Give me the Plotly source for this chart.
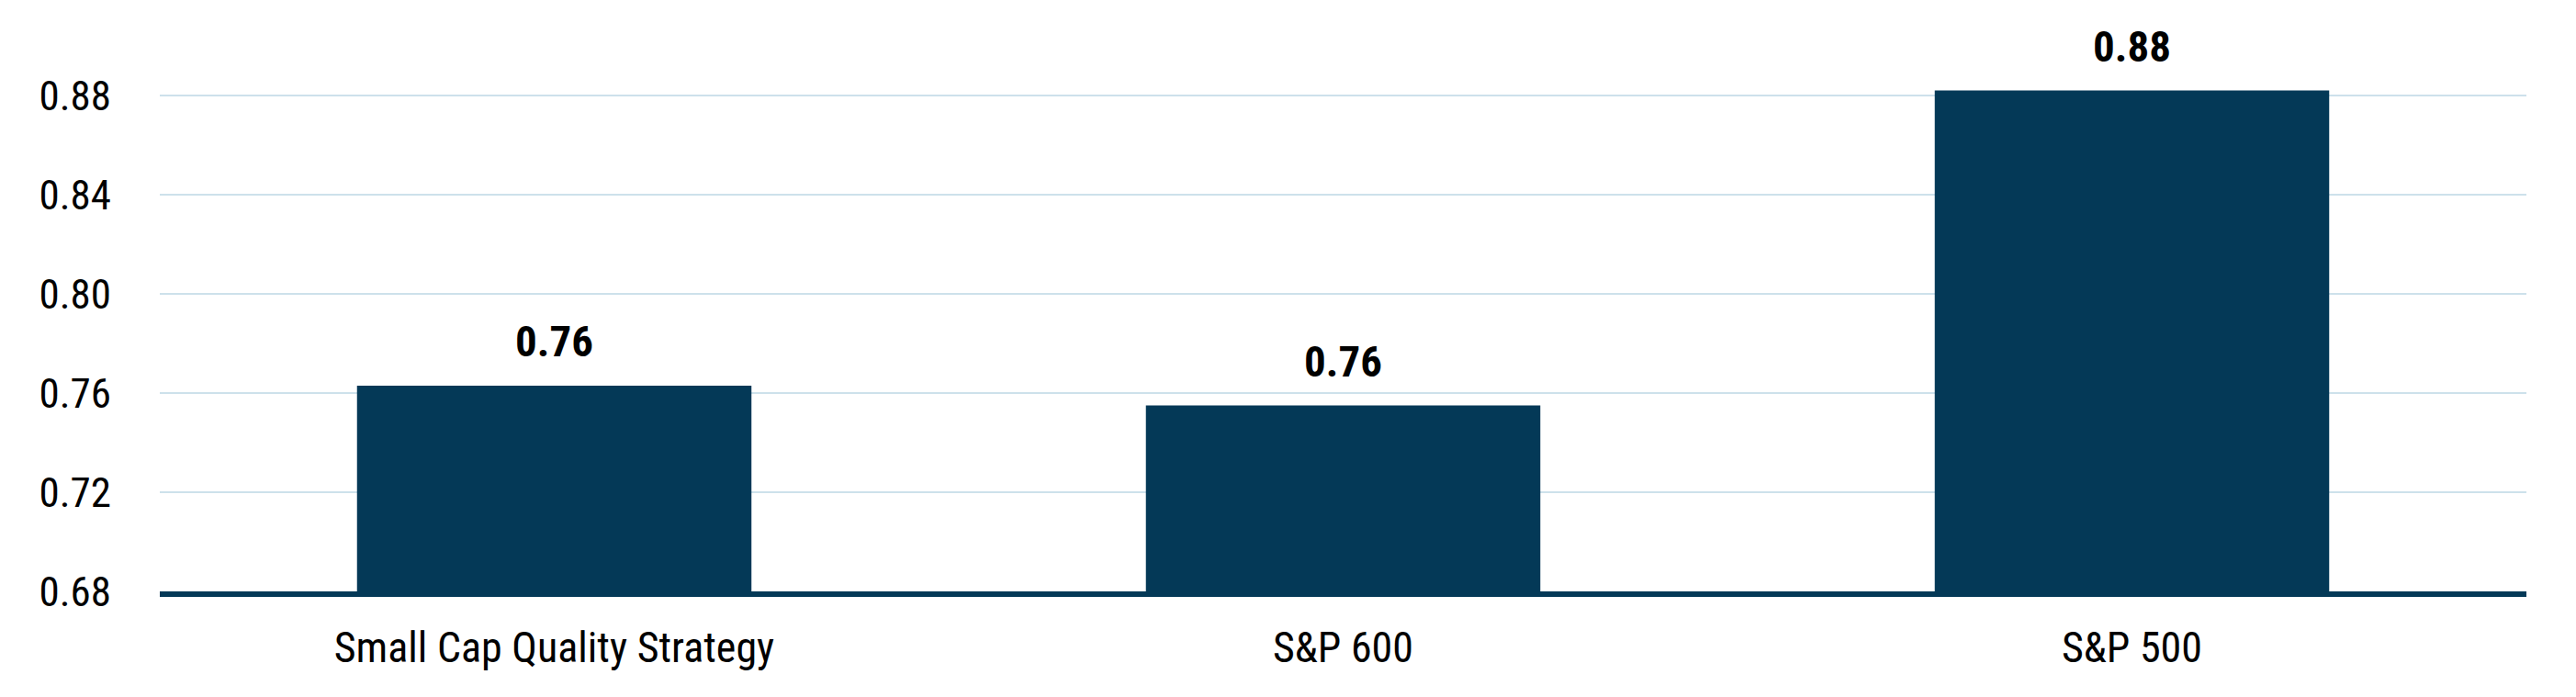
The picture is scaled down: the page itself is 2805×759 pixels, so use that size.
import plotly.graph_objects as go

# Chart data
categories = ["Small Cap Quality Strategy", "S&P 600", "S&P 500"]
values = [0.763, 0.755, 0.882]
value_labels = ["0.76", "0.76", "0.88"]
y_ticks = [0.68, 0.72, 0.76, 0.80, 0.84, 0.88]
y_tick_labels = ["0.68", "0.72", "0.76", "0.80", "0.84", "0.88"]

BAR_COLOR = "#043957"
GRID_COLOR = "#cde1eb"
FONT = "Roboto Condensed, Liberation Sans Narrow, DejaVu Sans Condensed, sans-serif"

fig = go.Figure(
    go.Bar(
        x=categories,
        y=values,
        marker=dict(color=BAR_COLOR, line=dict(width=0)),
        width=0.5,
        showlegend=False,
    )
)

# Value labels above each bar
for cat, val, lab in zip(categories, values, value_labels):
    fig.add_annotation(
        x=cat, y=val, text=f"<b>{lab}</b>",
        showarrow=False, yanchor="bottom", yshift=19,
        font=dict(family=FONT, size=47, color="#000000"),
    )

# page body has an 8px margin, so the figure is sized to fit inside it
fig.update_layout(
    width=2789,
    height=743,
    margin=dict(l=166, r=46, t=42, b=107),
    paper_bgcolor="white",
    plot_bgcolor="white",
    font=dict(family=FONT, size=46, color="#000000"),
    bargap=0.5,
)

fig.update_xaxes(
    showline=True, linecolor=BAR_COLOR, linewidth=6,
    showgrid=False, ticks="", ticklabelstandoff=16,
    tickfont=dict(family=FONT, size=46, color="#000000"),
)
fig.update_yaxes(
    range=[0.68, 0.90],
    tickvals=y_ticks, ticktext=y_tick_labels,
    showgrid=True, gridcolor=GRID_COLOR, gridwidth=2,
    zeroline=False, showline=False, ticks="",
    ticklabelstandoff=52,
    tickfont=dict(family=FONT, size=45, color="#000000"),
)

fig.write_html("out.html")
